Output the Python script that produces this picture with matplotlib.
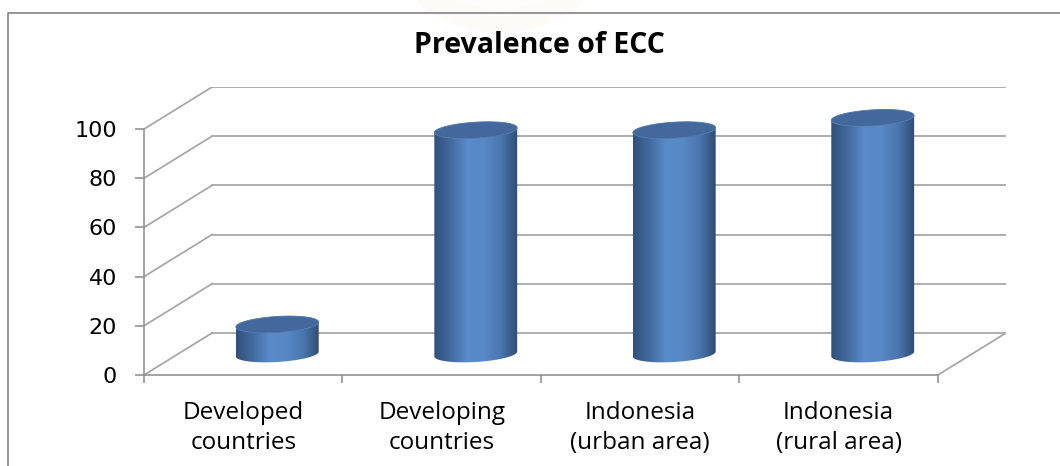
import numpy as np
import matplotlib
matplotlib.use("Agg")
from matplotlib import pyplot as plt
from matplotlib.colors import LinearSegmentedColormap
from matplotlib.patches import Polygon, Circle

# data
categories = ["Developed\ncountries", "Developing\ncountries",
              "Indonesia\n(urban area)", "Indonesia\n(rural area)"]
prevalence = [12, 91, 91, 96]
y_ticks = [0, 20, 40, 60, 80, 100]

# 3d look: depth offset of the back wall, in data units
DX, DY = 0.343, 17.1
GRID = "#a8a8a8"
AXIS = "#8a8a8a"

fig = plt.figure(figsize=(10.6, 4.66), dpi=100)
W, H = 1060, 466

# background layer in pixels: frame + faint watermark
bg = fig.add_axes([0, 0, 1, 1], zorder=-1)
bg.set_xlim(0, W)
bg.set_ylim(H, 0)
bg.axis("off")
bg.add_patch(Circle((500, -95), 128, color="#fcfbf7", lw=0))
bg.add_patch(Circle((500, -95), 104, color="#fefdfb", lw=0))
bg.plot([8, 8, W], [H, 13, 13], color="#8c8c8c", lw=1.3)

# main axes: front plane x in [-0.5, 3.5], y in [0, 100]
ax = fig.add_axes([144 / W, (H - 375) / H, (1006 - 144) / W, (375 - 87) / H])
ax.set_xlim(-0.5, 3.5 + DX)
ax.set_ylim(0, 100 + DY)
ax.patch.set_alpha(0)

n = len(categories)
x0, x1 = -0.5, n - 0.5

# back wall gridlines + left wall diagonals
for t in y_ticks:
    ax.plot([x0 + DX, x1 + DX], [t + DY, t + DY], color=GRID, lw=1.3, zorder=1)
    ax.plot([x0, x0 + DX], [t, t + DY], color=GRID, lw=1.3, zorder=1)
# floor right edge
ax.plot([x1, x1 + DX], [0, DY], color=GRID, lw=1.3, zorder=1)

# spines / ticks on the front plane
for s in ["top", "right"]:
    ax.spines[s].set_visible(False)
ax.spines["left"].set_bounds(0, 100)
ax.spines["bottom"].set_bounds(x0, x1)
for s in ["left", "bottom"]:
    ax.spines[s].set_color(AXIS)
    ax.spines[s].set_linewidth(1.1)
ax.set_yticks(y_ticks)
ax.set_yticklabels([str(t) for t in y_ticks], fontsize=16, family="DejaVu Sans")
ax.tick_params(axis="y", length=6.5, width=1.1, color=AXIS, pad=13)
ax.set_xticks(np.arange(n + 1) - 0.5)
ax.set_xticklabels([])
ax.tick_params(axis="x", which="major", length=6, width=1.1, color=AXIS)
ax.set_xticks(np.arange(n), minor=True)
ax.set_xticklabels(categories, minor=True, fontsize=17.5, family="Open Sans")
ax.tick_params(axis="x", which="minor", length=0, pad=19)
for lab in ax.get_xticklabels(minor=True):
    lab.set_linespacing(1.3)

# pixel scale of the data units
SX = (1006 - 144) / (x1 + DX - x0)
SY = (375 - 87) / (100 + DY)

cmap = LinearSegmentedColormap.from_list(
    "cyl", ["#30517c", "#436a9f", "#5a8bca", "#5888c6", "#4b77af", "#2f4b71"])
grad = np.linspace(0, 1, 256).reshape(1, -1)

a_px, b_px, tilt = 41.5, 8.0, np.radians(3.5)


def ellipse(cx, cy, t):
    ex = a_px * np.cos(t) * np.cos(tilt) - b_px * np.sin(t) * np.sin(tilt)
    ey = a_px * np.cos(t) * np.sin(tilt) + b_px * np.sin(t) * np.cos(tilt)
    return np.column_stack([cx + ex / SX, cy + ey / SY])


for i, v in enumerate(prevalence):
    cx = i + DX / 2
    yb, yt = DY / 2, v + DY / 2
    t_front = np.linspace(np.pi, 2 * np.pi, 80)
    body = np.vstack([ellipse(cx, yb, t_front), ellipse(cx, yt, t_front[::-1])])
    poly = Polygon(body, closed=True, fc="none", ec="none", zorder=3)
    ax.add_patch(poly)
    im = ax.imshow(grad, cmap=cmap, aspect="auto", zorder=3,
                   extent=[cx - a_px / SX, cx + a_px / SX,
                           yb - 2 * b_px / SY, yt + 2 * b_px / SY])
    im.set_clip_path(poly)
    top = Polygon(ellipse(cx, yt, np.linspace(0, 2 * np.pi, 120)), closed=True,
                  fc="#43699c", ec="#4d76ab", lw=0.6, zorder=4)
    ax.add_patch(top)

ax.set_xlim(-0.5, 3.5 + DX)
ax.set_ylim(0, 100 + DY)

fig.text(539 / W, 1 - 53 / H, "Prevalence of ECC", ha="center", va="baseline",
         fontsize=20.5, fontweight="bold", family="Open Sans")

fig.savefig("out.png", dpi=100)
